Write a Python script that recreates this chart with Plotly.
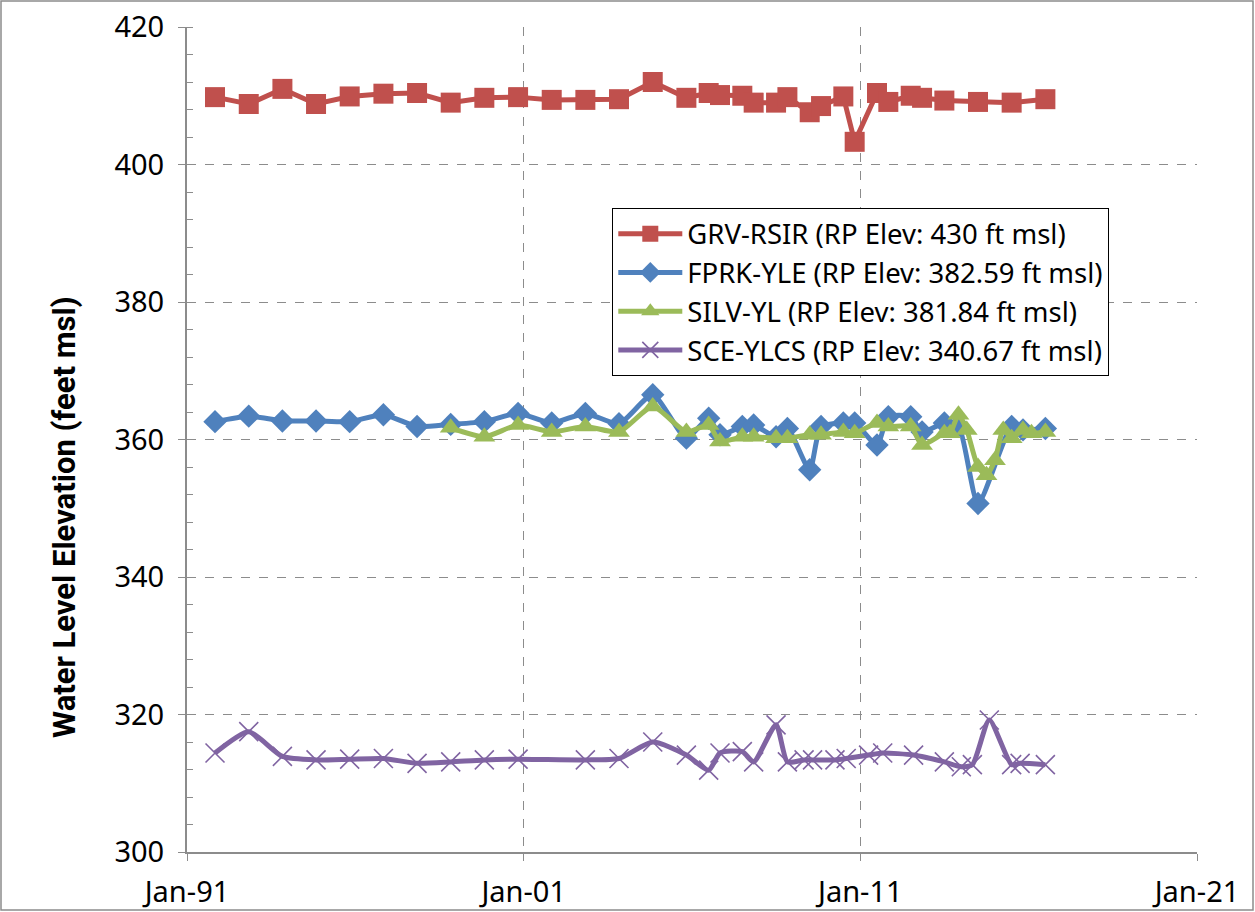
import plotly.graph_objects as go

# ---- GRV-RSIR ----
grv_dates = ["1991-11-01", "1992-11-01", "1993-11-01", "1994-11-01", "1995-11-01",
             "1996-11-01", "1997-11-01", "1998-11-01", "1999-11-01", "2000-11-01",
             "2001-11-01", "2002-11-01", "2003-11-01", "2004-11-01", "2005-11-01",
             "2006-07-01", "2006-11-01", "2007-07-01", "2007-11-01", "2008-07-01",
             "2008-11-01", "2009-07-01", "2009-11-01", "2010-07-01", "2010-11-01",
             "2011-07-01", "2011-11-01", "2012-07-01", "2012-11-01", "2013-07-01",
             "2014-07-01", "2015-07-01", "2016-07-01"]
grv_elev = [409.8, 408.8, 411.0, 408.8, 409.9, 410.3, 410.4, 409.0, 409.7, 409.8,
            409.4, 409.4, 409.5, 412.0, 409.7, 410.4, 410.1, 410.0, 409.0, 409.0,
            409.8, 407.6, 408.5, 409.9, 403.3, 410.4, 409.1, 410.0, 409.7, 409.3,
            409.1, 409.0, 409.5]

# ---- FPRK-YLE ----
fprk_dates = ["1991-11-01", "1992-11-01", "1993-11-01", "1994-11-01", "1995-11-01",
              "1996-11-01", "1997-11-01", "1998-11-01", "1999-11-01", "2000-11-01",
              "2001-11-01", "2002-11-01", "2003-11-01", "2004-11-01", "2005-11-01",
              "2006-07-01", "2006-11-01", "2007-07-01", "2007-11-01", "2008-07-01",
              "2008-11-01", "2009-07-01", "2009-11-01", "2010-07-01", "2010-11-01",
              "2011-07-01", "2011-11-01", "2012-07-01", "2012-11-01", "2013-07-01",
              "2013-12-01", "2014-07-01", "2015-07-01", "2015-11-01", "2016-07-01"]
fprk_elev = [362.6, 363.4, 362.7, 362.7, 362.6, 363.6, 361.9, 362.2, 362.6, 363.8,
             362.4, 363.8, 362.3, 366.5, 360.2, 363.1, 360.7, 361.9, 362.1, 360.4,
             361.6, 355.6, 361.9, 362.4, 362.4, 359.2, 363.3, 363.3, 361.1, 362.4,
             362.0, 350.7, 361.9, 361.4, 361.6]

# ---- SILV-YL ----
silv_dates = ["1998-11-01", "1999-11-01", "2000-11-01", "2001-11-01", "2002-11-01",
              "2003-11-01", "2004-11-01", "2005-11-01", "2006-07-01", "2006-11-01",
              "2007-07-01", "2007-11-01", "2008-07-01", "2008-11-01", "2009-07-01",
              "2009-11-01", "2010-07-01", "2010-11-01", "2011-07-01", "2011-11-01",
              "2012-07-01", "2012-11-01", "2013-07-01", "2013-09-01", "2013-12-01",
              "2014-03-01", "2014-07-01", "2014-10-01", "2015-01-01", "2015-04-01",
              "2015-07-01", "2015-11-01", "2016-02-01", "2016-07-01"]
silv_elev = [361.7, 360.4, 362.1, 361.1, 361.9, 361.1, 364.8, 361.1, 362.1, 359.7,
             360.4, 360.4, 360.2, 360.2, 360.7, 360.7, 361.1, 360.9, 362.4, 361.9,
             361.9, 359.2, 360.9, 360.9, 363.6, 361.4, 356.0, 354.8, 357.0, 361.4,
             360.2, 361.4, 360.9, 361.1]

# ---- SCE-YLCS ----
sce_dates = ["1991-11-01", "1992-11-01", "1993-11-01", "1994-11-01", "1995-11-01",
             "1996-11-01", "1997-11-01", "1998-11-01", "1999-11-01", "2000-11-01",
             "2002-11-01", "2003-11-01", "2004-11-01", "2005-11-01", "2006-07-01",
             "2006-11-01", "2007-07-01", "2007-11-01", "2008-07-01", "2008-11-01",
             "2009-05-01", "2009-08-01", "2010-04-01", "2010-08-01", "2011-04-01",
             "2011-09-01", "2012-08-01", "2013-07-01", "2014-01-01", "2014-05-01",
             "2014-11-01", "2015-07-01", "2015-10-01", "2016-07-01"]
sce_elev = [314.4, 317.5, 313.9, 313.4, 313.5, 313.6, 312.9, 313.1, 313.4, 313.5,
            313.4, 313.6, 316.0, 314.1, 311.9, 314.4, 314.6, 313.1, 318.5, 313.1,
            313.4, 313.4, 313.4, 313.6, 314.1, 314.4, 314.1, 313.1, 312.4, 312.7,
            319.2, 312.7, 312.9, 312.7]

series = [
    ("GRV-RSIR (RP Elev: 430 ft msl)", grv_dates, grv_elev, "#C0504D", "square", 20, "linear"),
    ("FPRK-YLE (RP Elev: 382.59 ft msl)", fprk_dates, fprk_elev, "#4F81BD", "diamond", 18, "spline"),
    ("SILV-YL (RP Elev: 381.84 ft msl)", silv_dates, silv_elev, "#9BBB59", "triangle-up", 19, "spline"),
    ("SCE-YLCS (RP Elev: 340.67 ft msl)", sce_dates, sce_elev, "#8064A2", "x-thin", 19, "spline"),
]

fig = go.Figure()
for name, xs, ys, color, symbol, size, shape in series:
    marker = dict(symbol=symbol, size=size, color=color)
    if symbol == "x-thin":
        marker["line"] = dict(color=color, width=1.6)
    fig.add_trace(go.Scatter(
        x=xs, y=ys, name=name, mode="lines+markers",
        line=dict(color=color, width=5, shape=shape, smoothing=0.6),
        marker=marker,
    ))

W, H = 1255, 912
ml, mr, mt, mb = 187, 58, 27, 60
pw, ph = W - ml - mr, H - mt - mb

tick_font = dict(family="Noto Sans, sans-serif", size=29, color="black")

fig.update_layout(
    width=W, height=H,
    margin=dict(l=ml, r=mr, t=mt, b=mb),
    paper_bgcolor="white", plot_bgcolor="white",
    showlegend=True,
    legend=dict(
        x=(612 - ml) / pw, y=1 - (208 - mt) / ph, xanchor="left", yanchor="top",
        bgcolor="white", bordercolor="black", borderwidth=1.3,
        font=dict(family="Noto Sans, sans-serif", size=27.5, color="black"),
        itemwidth=64, tracegroupgap=0,
    ),
    xaxis=dict(
        type="date", range=["1991-01-01", "2021-01-01"],
        tick0="1991-01-01", dtick="M120", tickformat="%b-%y",
        showgrid=True, gridcolor="#8c8c8c", griddash="dash", gridwidth=1,
        showline=True, linecolor="#8c8c8c", linewidth=2,
        ticks="outside", ticklen=7, tickcolor="#8c8c8c",
        tickfont=tick_font, ticklabelstandoff=6,
        zeroline=False, automargin=False,
    ),
    yaxis=dict(
        range=[300, 420], dtick=20, tick0=300,
        showgrid=True, gridcolor="#8c8c8c", griddash="dash", gridwidth=1,
        showline=True, linecolor="#8c8c8c", linewidth=2,
        ticks="outside", ticklen=7, tickcolor="#8c8c8c",
        minor=dict(dtick=4, ticks="inside", ticklen=6, tickcolor="#8c8c8c", showgrid=False),
        tickfont=tick_font, ticklabelstandoff=8,
        zeroline=False, automargin=False,
    ),
)

# vertical axis title, set beside the lower half of the axis
fig.add_annotation(
    text="<b>Water Level Elevation (feet msl)</b>", textangle=-90,
    xref="paper", yref="paper", x=(64 - ml) / pw, y=1 - (517 - mt) / ph,
    xanchor="center", yanchor="middle", showarrow=False,
    font=dict(family="Roboto, sans-serif", size=31, color="black"),
)

# outer frame around the whole chart
fig.add_shape(type="rect", xref="paper", yref="paper",
              x0=(1 - ml) / pw, x1=(W - 2 - ml) / pw,
              y0=-(H - 2 - mt - ph) / ph, y1=1 + (mt - 1) / ph,
              line=dict(color="#8c8c8c", width=1.5), fillcolor="rgba(0,0,0,0)", layer="below")

fig.write_html("out.html")
